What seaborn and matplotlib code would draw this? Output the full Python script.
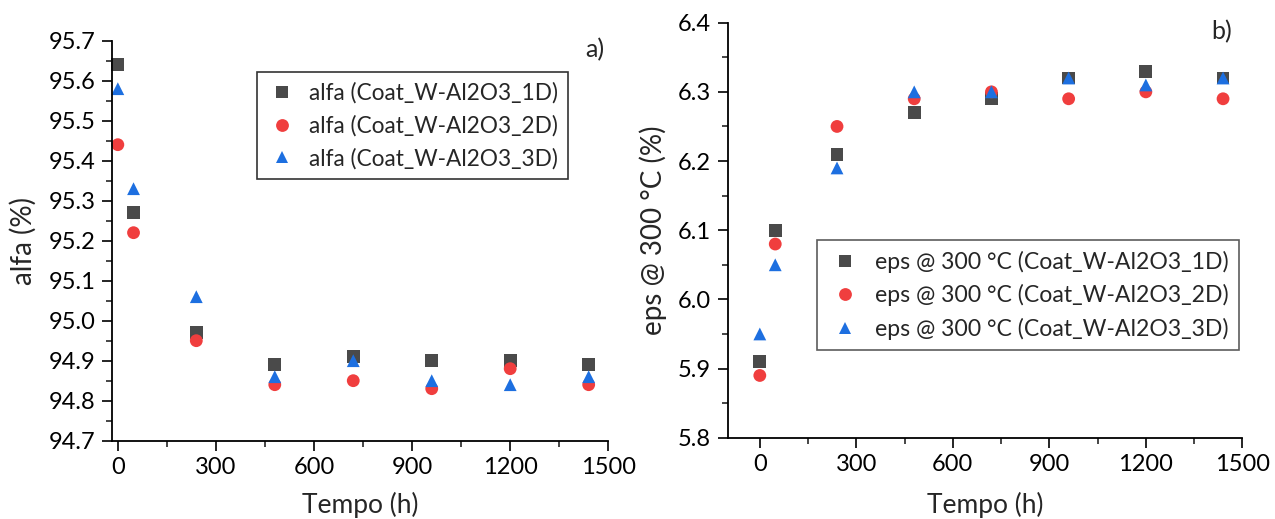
import matplotlib
matplotlib.use("Agg")
import matplotlib.pyplot as plt
import seaborn as sns
import pandas as pd
from matplotlib.ticker import MultipleLocator

sns.set_theme(style="ticks")
plt.rcParams['font.family'] = ['Lato', 'DejaVu Sans']

tempo = [0, 48, 240, 480, 720, 960, 1200, 1440]

alfa_1D = [95.64, 95.27, 94.97, 94.89, 94.91, 94.90, 94.90, 94.89]
alfa_2D = [95.44, 95.22, 94.95, 94.84, 94.85, 94.83, 94.88, 94.84]
alfa_3D = [95.58, 95.33, 95.06, 94.86, 94.90, 94.85, 94.84, 94.86]

eps_1D = [5.91, 6.10, 6.21, 6.27, 6.29, 6.32, 6.33, 6.32]
eps_2D = [5.89, 6.08, 6.25, 6.29, 6.30, 6.29, 6.30, 6.29]
eps_3D = [5.95, 6.05, 6.19, 6.30, 6.30, 6.32, 6.31, 6.32]

alfa_labels = ["alfa (Coat_W-Al2O3_1D)", "alfa (Coat_W-Al2O3_2D)", "alfa (Coat_W-Al2O3_3D)"]
eps_labels = ["eps @ 300 °C (Coat_W-Al2O3_1D)", "eps @ 300 °C (Coat_W-Al2O3_2D)",
              "eps @ 300 °C (Coat_W-Al2O3_3D)"]

colors = ["#4a4a4a", "#f03e3e", "#1d6fe0"]
markers = ["s", "o", "^"]


def long_df(series, labels):
    rows = []
    for vals, lab in zip(series, labels):
        for t, v in zip(tempo, vals):
            rows.append({"Tempo": t, "val": v, "serie": lab})
    return pd.DataFrame(rows)


df_a = long_df([alfa_1D, alfa_2D, alfa_3D], alfa_labels)
df_e = long_df([eps_1D, eps_2D, eps_3D], eps_labels)

fig = plt.figure(figsize=(12.75, 5.19), dpi=100)
ax1 = fig.add_axes([0.0878, 0.1509, 0.4771 - 0.0878, 0.9216 - 0.1509])
ax2 = fig.add_axes([0.5707, 0.1566, 0.9744 - 0.5707, 0.9563 - 0.1566])

for ax, df, labels, lp in [(ax1, df_a, alfa_labels, 10), (ax2, df_e, eps_labels, 12)]:
    sns.scatterplot(data=df, x="Tempo", y="val", hue="serie", style="serie",
                    palette=dict(zip(labels, colors)),
                    markers=dict(zip(labels, markers)),
                    hue_order=labels, style_order=labels,
                    s=85, linewidth=0, ax=ax, legend=True, clip_on=False)
    for sp in ["top", "right"]:
        ax.spines[sp].set_visible(False)
    for sp in ["left", "bottom"]:
        ax.spines[sp].set_linewidth(1.3)
        ax.spines[sp].set_color("black")
    ax.xaxis.set_major_locator(MultipleLocator(300))
    ax.xaxis.set_minor_locator(MultipleLocator(150))
    ax.tick_params(which="major", direction="out", length=7, width=1.2, labelsize=17,
                   colors="black", pad=5)
    ax.tick_params(which="minor", direction="out", length=4, width=1.2)
    ax.set_xlabel("Tempo (h)", fontsize=19, labelpad=lp)

ax1.set_xlim(-18, 1500)
ax1.set_ylim(94.7, 95.7)
ax1.yaxis.set_major_locator(MultipleLocator(0.1))
ax1.yaxis.set_minor_locator(MultipleLocator(0.05))
ax1.yaxis.set_major_formatter(matplotlib.ticker.FormatStrFormatter("%.1f"))
ax1.set_ylabel("alfa (%)", fontsize=20, labelpad=8)

ax2.set_xlim(-100, 1500)
ax2.set_ylim(5.8, 6.4)
ax2.yaxis.set_major_locator(MultipleLocator(0.1))
ax2.yaxis.set_minor_locator(MultipleLocator(0.05))
ax2.yaxis.set_major_formatter(matplotlib.ticker.FormatStrFormatter("%.1f"))
ax2.set_ylabel("eps @ 300 °C (%)", fontsize=20, labelpad=8)

h1, l1 = ax1.get_legend_handles_labels()
leg1 = ax1.legend(h1, l1, loc="upper left", bbox_to_anchor=(0.292, 0.922), fontsize=16.3,
                  frameon=True, fancybox=False, edgecolor="black", handletextpad=0.55,
                  handlelength=1.3, borderpad=0.45, labelspacing=0.5, borderaxespad=0)
leg1.get_frame().set_linewidth(1.2)

h2, l2 = ax2.get_legend_handles_labels()
leg2 = ax2.legend(h2, l2, loc="upper left", bbox_to_anchor=(0.174, 0.476), fontsize=16.6,
                  frameon=True, fancybox=False, edgecolor="#333333", handletextpad=0.55,
                  handlelength=1.5, borderpad=0.45, labelspacing=0.5, borderaxespad=0)
leg2.get_frame().set_linewidth(1.2)

ax1.text(0.993, 1.007, "a)", transform=ax1.transAxes, fontsize=18, ha="right", va="top")
ax2.text(0.98, 1.006, "b)", transform=ax2.transAxes, fontsize=18, ha="right", va="top")

fig.savefig("out.png", dpi=100)
